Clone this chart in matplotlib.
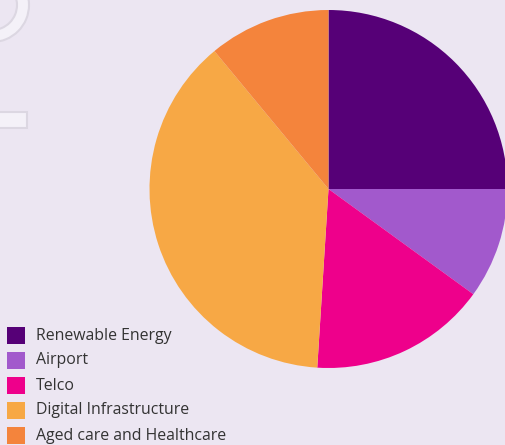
import matplotlib
matplotlib.use("Agg")
import matplotlib.pyplot as plt
from matplotlib.patches import Rectangle, Wedge

# portfolio split by sector (%)
sectors = ["Renewable Energy", "Airport", "Telco", "Digital Infrastructure",
           "Aged care and Healthcare"]
shares = [25, 10, 16, 38, 11]
colors = ["#560077", "#a259cc", "#ee008b", "#f7a845", "#f4843c"]

bg = "#ece6f2"
W, H = 506, 445

plt.rcParams['font.family'] = ['Open Sans', 'DejaVu Sans']

fig = plt.figure(figsize=(W / 100, H / 100), dpi=100, facecolor=bg)

# decorative shapes in the top left corner (pixel coords)
deco = fig.add_axes([0, 0, 1, 1])
deco.set_xlim(0, W)
deco.set_ylim(H, 0)
deco.axis("off")
deco.add_patch(Wedge((-8, 5), 37, 0, 360, width=12, facecolor="#f4f1f8",
                     edgecolor="#dcd7e2", linewidth=1.5))
deco.add_patch(Rectangle((-5, 112), 32, 16, facecolor="#f4f1f8",
                         edgecolor="#dcd7e2", linewidth=1.5))

# pie, centre (328.5, 189) px, radius 179 px
cx, cy, r = 328.5, 189, 179
ax = fig.add_axes([(cx - r) / W, (H - cy - r) / H, 2 * r / W, 2 * r / H])
ax.set_facecolor("none")
wedges, _ = ax.pie(shares, colors=colors, startangle=90, counterclock=False,
                   radius=1, wedgeprops=dict(linewidth=0))
ax.set_xlim(-1, 1)
ax.set_ylim(-1, 1)
ax.set_aspect("equal")

# legend, bottom left
row0, pitch = 335.5, 25
for i, (name, col) in enumerate(zip(sectors, colors)):
    y = row0 + i * pitch
    deco.add_patch(Rectangle((7, y - 8.5), 18, 17, facecolor=col, edgecolor="none"))
    deco.text(36, y, name, fontsize=11.4, color="#333333", va="center", ha="left")

fig.savefig("out.png", dpi=100, facecolor=bg)
